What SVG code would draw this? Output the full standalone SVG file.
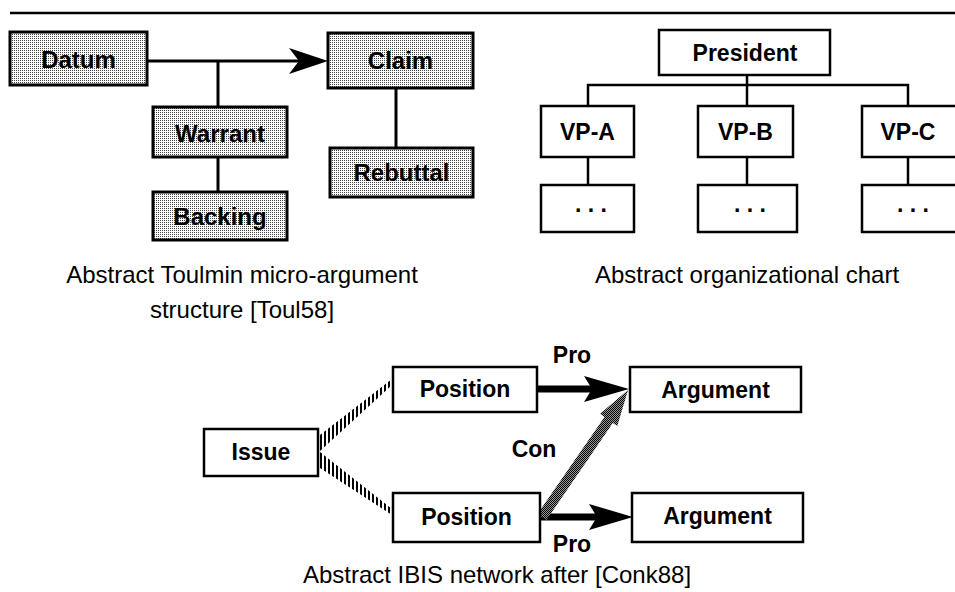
<svg xmlns="http://www.w3.org/2000/svg" width="955" height="592" viewBox="0 0 955 592">
<defs>
<style>
.lbl{font-family:"Liberation Sans",Arial,Helvetica,sans-serif;font-weight:bold;fill:#000;text-anchor:middle}
.t24{font-size:24px}
.t23{font-size:23px}
.cap{font-family:"Liberation Sans",Arial,Helvetica,sans-serif;font-size:24px;fill:#000;text-anchor:middle}
.tbox{fill:url(#dots);stroke:#000;stroke-width:3}
.box{fill:#fff;stroke:#000;stroke-width:2.5}
.ln{fill:none;stroke:#000;stroke-width:3}
.ln2{fill:none;stroke:#000;stroke-width:2.5}
.thick{fill:none;stroke:#000;stroke-width:7}
</style>
<pattern id="dots" width="2" height="2" patternUnits="userSpaceOnUse">
<rect width="2" height="2" fill="#fff"/><rect width="1" height="1" fill="#444"/>
</pattern>
<pattern id="mesh" width="2" height="2" patternUnits="userSpaceOnUse">
<rect width="2" height="2" fill="#999"/><rect width="1" height="1" fill="#000"/><rect x="1" y="1" width="1" height="1" fill="#000"/>
</pattern>
<pattern id="hatch" width="4" height="4" patternUnits="userSpaceOnUse">
<rect width="2" height="4" fill="#000"/>
</pattern>
</defs>
<rect width="955" height="592" fill="#fff"/>
<line x1="10" y1="13" x2="955" y2="13" stroke="#000" stroke-width="2.5"/>

<g id="connectors">
<line class="ln" x1="147" y1="61" x2="300" y2="61"/>
<polygon points="328,61 289,48 299,61 289,74" fill="#000"/>
<line class="ln" x1="218" y1="61" x2="218" y2="107"/>
<line class="ln" x1="218" y1="157" x2="218" y2="192"/>
<line class="ln" x1="396" y1="88" x2="396" y2="148"/>
<line class="ln2" x1="747" y1="75" x2="747" y2="106"/>
<polyline class="ln2" points="588,106 588,85 908,85 908,106"/>
<line class="ln2" x1="588" y1="157" x2="588" y2="185"/>
<line class="ln2" x1="747" y1="157" x2="747" y2="185"/>
<line class="ln2" x1="908" y1="157" x2="908" y2="185"/>
<polygon points="320,435 392,379 392,385 320,451" fill="url(#hatch)"/>
<polygon points="320,452 392,509 392,515 320,468" fill="url(#hatch)"/>
<line class="thick" x1="537" y1="389" x2="595" y2="389"/>
<polygon points="629,389 584,376 592,389 584,402" fill="#000"/>
<line class="thick" x1="540" y1="517" x2="598" y2="517"/>
<polygon points="633,517 589,504 597,517 589,530" fill="#000"/>
<polygon points="546.5,520 612.8,423 617.3,426 628,390 600.1,413.8 604.5,417 537.5,514" fill="url(#mesh)"/>
</g>

<g id="datum"><rect class="tbox" x="10" y="32" width="137" height="53"/><text class="lbl t24" x="78.5" y="68">Datum</text></g>
<g id="claim"><rect class="tbox" x="328" y="33" width="145" height="55"/><text class="lbl t24" x="400.5" y="69">Claim</text></g>
<g id="warrant"><rect class="tbox" x="153" y="107" width="134" height="50"/><text class="lbl t24" x="220" y="142">Warrant</text></g>
<g id="backing"><rect class="tbox" x="153" y="192" width="134" height="48"/><text class="lbl t24" x="220" y="225">Backing</text></g>
<g id="rebuttal"><rect class="tbox" x="330" y="148" width="143" height="49"/><text class="lbl t24" x="401.5" y="181">Rebuttal</text></g>

<g id="president"><rect class="box" x="659" y="30" width="171" height="45"/><text class="lbl t23" x="745" y="61">President</text></g>
<g id="vpa"><rect class="box" x="541" y="106" width="93" height="51"/><text class="lbl t23" x="587.5" y="140">VP-A</text></g>
<g id="vpb"><rect class="box" x="698" y="106" width="95" height="51"/><text class="lbl t23" x="745.5" y="140">VP-B</text></g>
<g id="vpc"><rect class="box" x="862" y="106" width="97" height="51"/><text class="lbl t23" x="908" y="140">VP-C</text></g>
<g id="suba"><rect class="box" x="541" y="185" width="93" height="47"/><text class="lbl t23" x="591" y="212">. . .</text></g>
<g id="subb"><rect class="box" x="698" y="185" width="99" height="47"/><text class="lbl t23" x="750" y="212">. . .</text></g>
<g id="subc"><rect class="box" x="862" y="185" width="97" height="47"/><text class="lbl t23" x="913" y="212">. . .</text></g>

<g id="issue"><rect class="box" x="204" y="429" width="114" height="47"/><text class="lbl t23" x="261" y="460">Issue</text></g>
<g id="position1"><rect class="box" x="393" y="367" width="144" height="45"/><text class="lbl t23" x="465" y="397">Position</text></g>
<g id="position2"><rect class="box" x="393" y="493" width="147" height="49"/><text class="lbl t23" x="466.5" y="525">Position</text></g>
<g id="argument1"><rect class="box" x="630" y="367" width="171" height="45"/><text class="lbl t23" x="715.5" y="398">Argument</text></g>
<g id="argument2"><rect class="box" x="632" y="493" width="171" height="49"/><text class="lbl t23" x="717.5" y="524">Argument</text></g>

<g id="labels">
<text class="lbl t23" x="572" y="363">Pro</text>
<text class="lbl t23" x="534" y="457">Con</text>
<text class="lbl t23" x="572" y="552">Pro</text>
</g>

<g id="captions">
<text class="cap" x="242" y="283">Abstract Toulmin micro-argument</text>
<text class="cap" x="242" y="318">structure [Toul58]</text>
<text class="cap" x="747" y="283">Abstract organizational chart</text>
<text class="cap" x="497" y="583">Abstract IBIS network after [Conk88]</text>
</g>
</svg>
